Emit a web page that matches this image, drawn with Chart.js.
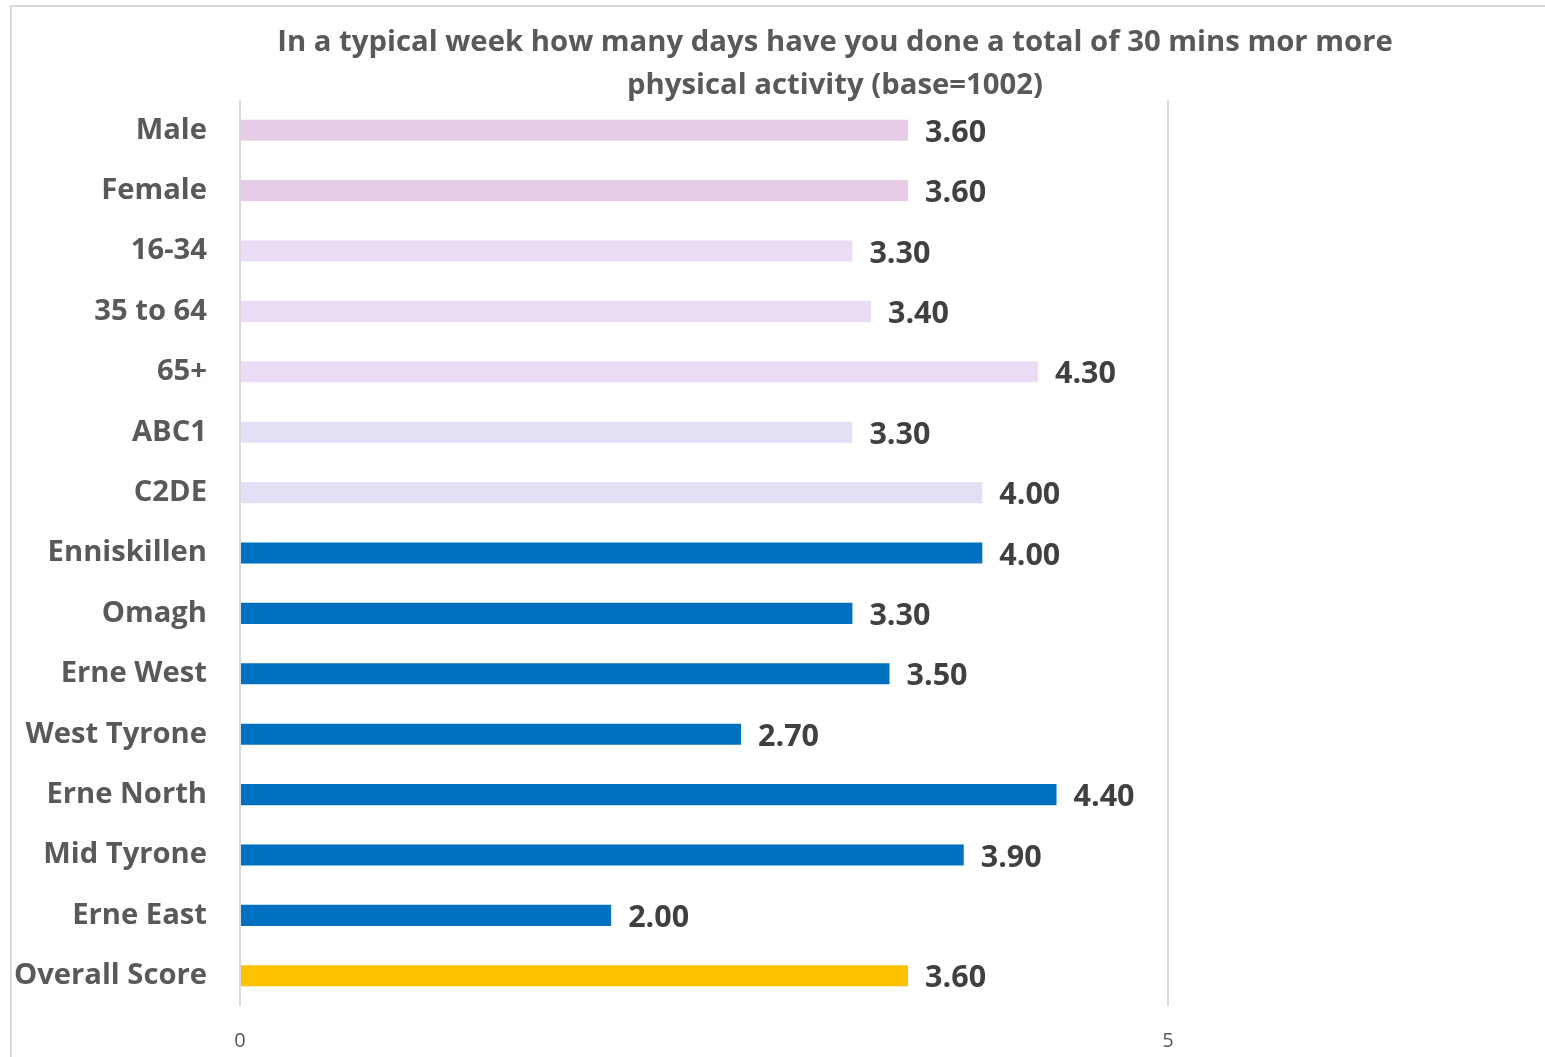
<!DOCTYPE html>
<html>
<head>
<meta charset="utf-8">
<script src="https://cdn.jsdelivr.net/npm/chart.js@4/dist/chart.umd.min.js"></script>
<style>
  html, body { margin: 0; padding: 0; background: #fff; overflow: hidden; }
  #frame { position: absolute; left: 10px; top: 5px; width: 1700px; height: 1200px; border: 2px solid #d9d9d9; box-sizing: border-box; pointer-events: none; }
  #chart { position: absolute; left: 10px; top: 5px; }
</style>
</head>
<body>
<canvas id="chart" width="1650" height="1060"></canvas>
<div id="frame"></div>
<script>
const categories = ["Male", "Female", "16-34", "35 to 64", "65+", "ABC1", "C2DE",
  "Enniskillen", "Omagh", "Erne West", "West Tyrone", "Erne North", "Mid Tyrone",
  "Erne East", "Overall Score"]
const scores = [3.6, 3.6, 3.3, 3.4, 4.3, 3.3, 4.0, 4.0, 3.3, 3.5, 2.7, 4.4, 3.9, 2.0, 3.6]
const barColors = ["#e6cce6", "#e6cce6", "#eadcf4", "#eadcf4", "#eadcf4", "#e3dff5", "#e3dff5",
  "#0070c0", "#0070c0", "#0070c0", "#0070c0", "#0070c0", "#0070c0", "#0070c0", "#ffc000"]
const xTicks = [0, 5]
const titleLines = ["In a typical week how many days have you done a total of 30 mins mor more",
  "physical activity (base=1002)"]

const FONT = "'Open Sans', Lato, sans-serif"

// title centred on the whole frame, not on the plot area
const frameTitle = {
  id: "frameTitle",
  afterDraw(chart) {
    const ctx = chart.ctx
    ctx.save()
    ctx.font = "bold 29.3px " + FONT
    ctx.fillStyle = "#595959"
    ctx.textAlign = "center"
    ctx.textBaseline = "middle"
    titleLines.forEach((line, i) => {
      ctx.fillText(line, chart.width / 2, 38 + i * 43)
    })
    ctx.restore()
  }
}

// value labels at the end of each bar
const valueLabels = {
  id: "valueLabels",
  afterDatasetsDraw(chart) {
    const ctx = chart.ctx
    const meta = chart.getDatasetMeta(0)
    ctx.save()
    ctx.font = "bold 30.5px " + FONT
    ctx.fillStyle = "#404040"
    ctx.textAlign = "left"
    ctx.textBaseline = "middle"
    meta.data.forEach((bar, i) => {
      ctx.fillText(scores[i].toFixed(2), bar.x + 17, bar.y + 3)
    })
    ctx.restore()
  }
}

new Chart(document.getElementById("chart").getContext("2d"), {
  type: "bar",
  data: {
    labels: categories,
    datasets: [{
      data: scores,
      backgroundColor: barColors,
      barPercentage: 0.35,
      categoryPercentage: 1.0
    }]
  },
  plugins: [valueLabels, frameTitle],
  options: {
    indexAxis: "y",
    responsive: false,
    animation: false,
    layout: { padding: { left: 0, right: 121, top: 95, bottom: 0 } },
    plugins: {
      legend: { display: false },
      tooltip: { enabled: false },
      title: { display: false }
    },
    scales: {
      x: {
        min: 0,
        max: 7,
        afterBuildTicks: (axis) => {
          axis.ticks = xTicks.map((v) => ({ value: v }))
        },
        afterFit: (scale) => { scale.height = 59 },
        grid: { color: "#d9d9d9", lineWidth: 2, drawTicks: false },
        border: { display: false },
        ticks: { color: "#595959", font: { family: FONT, size: 20 }, padding: 23 }
      },
      y: {
        afterFit: (scale) => { scale.width = 230 },
        grid: { display: false },
        border: { display: false },
        ticks: { color: "#595959", font: { family: FONT, size: 29.2, weight: "bold" }, padding: 25 }
      }
    }
  }
})
</script>
</body>
</html>
